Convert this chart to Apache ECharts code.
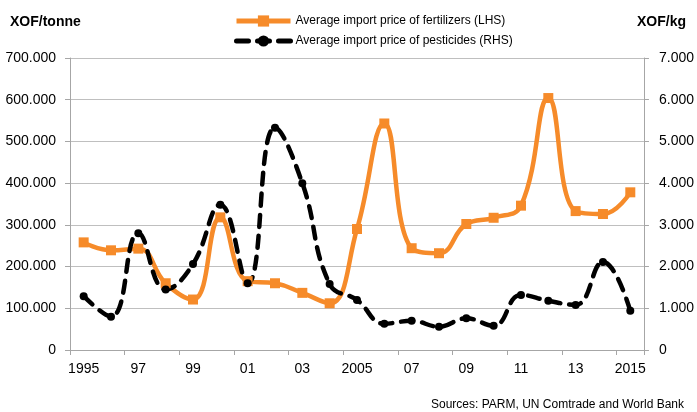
<!DOCTYPE html>
<html>
<head>
<meta charset="utf-8">
<script src="https://cdn.jsdelivr.net/npm/echarts@6/dist/echarts.min.js"></script>
<style>
  html, body { margin: 0; padding: 0; background: #fff; }
  #chart { width: 697px; height: 412px; }
</style>
</head>
<body>
<div id="chart"></div>
<script>
// years on the x axis
const years = ['1995', '1996', '1997', '1998', '1999', '2000', '2001', '2002', '2003', '2004', '2005',
  '2006', '2007', '2008', '2009', '2010', '2011', '2012', '2013', '2014', '2015'];
// shown tick labels (every other year)
const yearLabels = {
  '1995': '1995', '1997': '97', '1999': '99', '2001': '01', '2003': '03', '2005': '2005',
  '2007': '07', '2009': '09', '2011': '11', '2013': '13', '2015': '2015',
};
// XOF/tonne (LHS)
const fertilizers = [258000, 239000, 243000, 160000, 121000, 318000, 165000, 160000, 137000, 112000, 290000,
  543000, 244000, 232000, 302000, 317000, 346000, 604000, 333000, 326000, 378000];
// XOF/kg (RHS)
const pesticides = [1290, 800, 2800, 1450, 2060, 3480, 1600, 5330, 4000, 1580, 1200,
  630, 700, 560, 760, 580, 1320, 1180, 1080, 2110, 940];

const font = "'Liberation Sans', Arial, sans-serif";
// 700000 -> "700.000"
const fmtThousands = (v) => (v === 0 ? '0' : (v / 1000).toFixed(3));

const chart = echarts.init(document.getElementById('chart'));
chart.setOption({
  animation: false,
  textStyle: { fontFamily: font },
  title: [
    {
      text: 'XOF/tonne', left: 5, top: 10,
      textStyle: { fontSize: 14, fontWeight: 'bold', color: '#000', fontFamily: font },
    },
    {
      text: 'XOF/kg', right: 6, top: 10,
      textStyle: { fontSize: 14, fontWeight: 'bold', color: '#000', fontFamily: font },
    },
    {
      text: 'Sources: PARM, UN Comtrade and World Bank', right: 8, top: 394,
      textStyle: { fontSize: 12, fontWeight: 'normal', color: '#000', fontFamily: font },
    },
  ],
  legend: {
    orient: 'vertical',
    left: 229,
    top: 10,
    itemGap: 8,
    itemWidth: 54,
    itemHeight: 14,
    lineStyle: { width: 5 },
    textStyle: { fontSize: 12, color: '#000', fontFamily: font },
    data: ['Average import price of fertilizers (LHS)', 'Average import price of pesticides (RHS)'],
  },
  grid: { left: 70, right: 48, top: 58, bottom: 62 },
  xAxis: {
    type: 'category',
    data: years,
    boundaryGap: true,
    axisLine: { lineStyle: { color: '#A6A6A6', width: 1 } },
    axisTick: { show: true, length: 5, lineStyle: { color: '#A6A6A6' } },
    axisLabel: {
      interval: 1,
      margin: 12,
      fontSize: 14,
      color: '#000',
      fontFamily: font,
      formatter: (v) => yearLabels[v] || '',
    },
  },
  yAxis: [
    {
      type: 'value',
      min: 0, max: 700000, interval: 100000,
      axisLine: { show: true, lineStyle: { color: '#A6A6A6' } },
      axisTick: { show: true, length: 5, lineStyle: { color: '#A6A6A6' } },
      axisLabel: { fontSize: 14, color: '#000', margin: 14, fontFamily: font, formatter: fmtThousands },
      splitLine: { show: true, lineStyle: { color: '#BFBFBF', width: 1 } },
    },
    {
      type: 'value',
      min: 0, max: 7000, interval: 1000,
      position: 'right',
      axisLine: { show: true, lineStyle: { color: '#A6A6A6' } },
      axisTick: { show: true, length: 5, lineStyle: { color: '#A6A6A6' } },
      axisLabel: { fontSize: 14, color: '#000', margin: 15, fontFamily: font, formatter: fmtThousands },
      splitLine: { show: false },
    },
  ],
  series: [
    {
      name: 'Average import price of fertilizers (LHS)',
      type: 'line',
      yAxisIndex: 0,
      data: fertilizers,
      smooth: 0.45,
      symbol: 'rect',
      symbolSize: 10,
      itemStyle: { color: '#F68B2A' },
      lineStyle: { color: '#F68B2A', width: 4.5 },
    },
    {
      name: 'Average import price of pesticides (RHS)',
      type: 'line',
      yAxisIndex: 1,
      data: pesticides,
      smooth: 0.45,
      symbol: 'circle',
      symbolSize: 8,
      itemStyle: { color: '#000' },
      lineStyle: { color: '#000', width: 4.5, type: [12, 9], cap: 'round' },
    },
  ],
});
</script>
</body>
</html>
